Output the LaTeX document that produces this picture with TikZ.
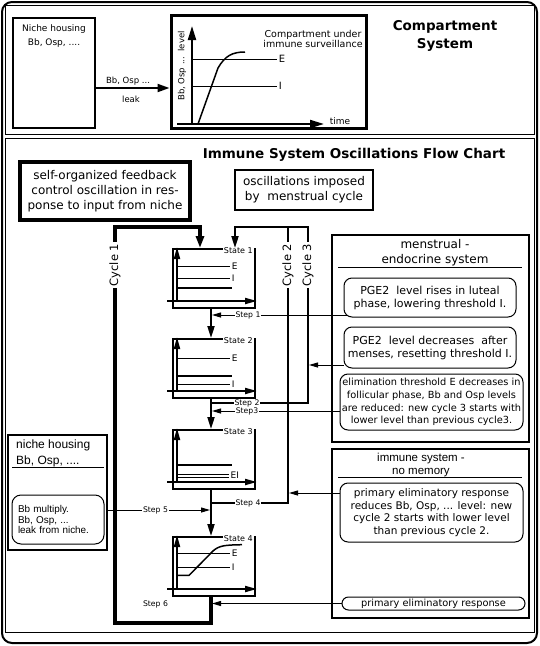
\documentclass[tikz,border=0pt]{standalone}
\usepackage{fontspec}
\setmainfont{DejaVu Sans}
\newfontfamily\helv{Liberation Sans}
\usetikzlibrary{arrows.meta,calc}
\newcommand\fs[2]{\fontsize{#1}{#2}\selectfont}
\tikzset{
  bigtip/.tip={Triangle[length=12pt,width=7pt]},
  smalltip/.tip={Triangle[length=9pt,width=5pt]},
  axtip/.tip={Triangle[length=12pt,width=6pt]},
}
\newcommand\stategraph[1]{%
  \draw[line width=2pt,-{axtip}] ($(#1.north west)+(5,53)$) -- ($(#1.north west)+(5,-1)$);
  \draw[line width=2pt,-{axtip}] ($(#1.north west)+(-5,53)$) -- ($(#1.north west)+(85,53)$);}
\newcommand\lvline[3]{%
  \draw[line width=0.8pt] ($(#1.north west)+(6,#2)$) -- ($(#1.north west)+(58,#2)$) node[elab] {#3};}
\newcommand\lvbare[2]{%
  \draw[line width=0.8pt] ($(#1.north west)+(6,#2)$) -- ($(#1.north west)+(57,#2)$);}
\newcommand\lvthick[2]{%
  \draw[line width=2pt] ($(#1.north west)+(6,#2)$) -- ($(#1.north west)+(60,#2)$);}
\begin{document}
\begin{tikzpicture}[x=1pt,y=-1pt,
  txt/.style={inner sep=0pt, align=center},
  statebox/.style={draw, line width=2pt, minimum width=82pt, minimum height=59pt, inner sep=0pt},
  rbox/.style={draw, line width=1pt, rounded corners=8pt, inner sep=0pt, align=center},
  framebox/.style={draw, line width=2pt, inner sep=0pt},
  spine/.style={line width=2pt},
  heavy/.style={line width=4pt},
  stepline/.style={line width=1pt},
  steplab/.style={fill=white, inner sep=0.6pt, font=\fs{7.7}{8}},
  statelab/.style={fill=white, inner sep=1pt, font=\fs{8}{9}, anchor=north east},
  elab/.style={anchor=west, inner sep=1.5pt, font=\fs{9}{10}},
  cyclab/.style={fill=white, rotate=90, inner sep=2pt, font=\fs{11.5}{12}}
]
\useasboundingbox (0,0) rectangle (540,646);
% ---------- frames
\draw[line width=2pt, rounded corners=10pt] (2,2) rectangle (537,643);
\draw[line width=1pt] (5,5) rectangle (534,134);
\draw[line width=1pt] (5,138) rectangle (534,632);

% ---------- top panel
\node[draw, line width=1.5pt, minimum width=82pt, minimum height=110pt, inner sep=0pt] (niche) at (54,73) {};
\node[txt, font=\fs{9}{14}] (nichet) at (54,36) {Niche housing\\Bb, Osp, ....};
\node[draw, line width=3pt, minimum width=195pt, minimum height=113pt, inner sep=0pt] (comp) at (268.5,71.5) {};
\path ($(niche.east)+(0,15)$) coordinate (leakstart);
\draw[line width=2pt, -{Triangle[length=12pt,width=8pt]}] (leakstart) -- (leakstart -| comp.west);
\node[txt, font=\fs{8.5}{10}] (bbosp) at (128,81) {Bb, Osp ...};
\node[txt, font=\fs{8.5}{10}] (leak) at (131,99) {leak};
% graph
\draw[line width=2pt, -{Triangle[length=14pt,width=8pt]}] (192,125) -- (192,26);
\draw[line width=2pt, -{Triangle[length=14pt,width=8pt]}] (177,124) -- (324,124);
\draw[line width=0.8pt] (193,59) -- (277,59) node[elab, font=\fs{10}{10}] (cE) {E};
\draw[line width=0.8pt] (193,86) -- (277,86) node[elab, font=\fs{10}{10}] (cI) {I};
\draw[line width=1.5pt] (198,124) -- (218,68) .. controls (225,56) and (232,52) .. (245,52);
\node[txt, rotate=90, font=\fs{8.5}{9}] (ylab) at (182,66) {Bb, Osp ...\ \ level};
\node[txt, font=\fs{9}{10}] (time) at (340,121) {time};
\node[txt, font=\fs{9.5}{9.5}] (compt) at (313,39) {Compartment under\\immune surveillance};
\node[txt, font=\bfseries\fs{13.5}{18}] (comps) at (445,36) {Compartment\\System};

% ---------- lower panel
\node[txt, font=\bfseries\fs{13.5}{14}] (title) at (354,155) {Immune System Oscillations Flow Chart};
\node[draw, line width=4pt, minimum width=170pt, minimum height=58pt, inner sep=0pt, align=center, font=\fs{12}{15}] (selforg) at (105,191) {self-organized feedback\\control oscillation in res-\\ponse to input from niche};
\node[draw, line width=2pt, minimum width=138pt, minimum height=40pt, inner sep=0pt, align=center, font=\fs{12}{15}] (imposed) at (304,190) {oscillations imposed\\by\ \ menstrual cycle};

% menstrual box
\node[framebox, minimum width=197pt, minimum height=207pt] (mens) at (430.5,338.5) {};
\node[txt, font=\fs{12}{15}] (menst) at (435,252.5) {menstrual -\\endocrine system};
\draw[line width=1pt] ($(mens.north west)+(7,33)$) -- ($(mens.north east)+(-8,33)$);
\node[rbox, minimum width=172pt, minimum height=39pt, font=\fs{11}{13}] (pge1) at (430,297.5) {PGE2\ \ level rises in luteal\\phase, lowering threshold I.};
\node[rbox, minimum width=172pt, minimum height=41pt, font=\fs{11}{13}] (pge2) at (430,347.5) {PGE2\ \ level decreases\ \ after\\menses, resetting threshold I.};
\node[rbox, minimum width=183pt, minimum height=56pt, font=\fs{9.8}{12.7}] (elim) at (431.5,402) {elimination threshold E decreases in\\follicular phase, Bb and Osp levels\\are reduced: new cycle 3 starts with\\lower level than previous cycle3.};

% immune box
\node[framebox, minimum width=197pt, minimum height=169pt] (imm) at (430.5,533.5) {};
\node[txt, font=\helv\fs{11.5}{13.7}] (immt) at (421,465) {immune system -\\no memory};
\draw[line width=1pt] ($(imm.north west)+(7,29)$) -- ($(imm.north east)+(-8,29)$);
\node[rbox, minimum width=183pt, minimum height=59pt, font=\fs{10.5}{12.4}] (prim1) at (431.5,512.5) {primary eliminatory response\\reduces Bb, Osp, ... level: new\\cycle 2 starts with lower level\\than previous cycle 2.};
\node[rbox, rounded corners=6.5pt, minimum width=183pt, minimum height=13pt, font=\fs{9.8}{10}] (prim2) at (433.5,603.5) {primary eliminatory response};

% niche housing box (left)
\node[framebox, minimum width=99pt, minimum height=115pt] (niche2) at (57.5,492.5) {};
\node[anchor=north west, inner sep=0pt, align=left, font=\helv\fs{12}{15.7}] (niche2t) at (16,440) {niche housing\\Bb, Osp, ....};
\draw[line width=1pt] ($(niche2.north west)+(5,33)$) -- ($(niche2.north east)+(-4,33)$);
\node[rbox, rounded corners=9pt, minimum height=49pt, text width=80pt, inner xsep=6pt, align=left, font=\helv\fs{9.9}{10.7}] (mult) at (58,519.5) {Bb multiply.\\Bb, Osp, ...\\leak from niche.};

% ---------- state boxes
\node[statebox] (s1) at (214,278.5) {};
\node[statebox] (s2) at (214,368.5) {};
\node[statebox] (s3) at (214,459.5) {};
\node[statebox] (s4) at (214,566.5) {};
\stategraph{s1}\stategraph{s2}\stategraph{s3}\stategraph{s4}
\lvline{s1}{18}{E}\lvline{s1}{30.5}{I}\lvthick{s1}{39.5}
\lvline{s2}{20}{E}\lvthick{s2}{37.5}\lvline{s2}{46.5}{I}
\lvthick{s3}{35.5}\lvbare{s3}{45.5}\lvbare{s3}{48}
\node[elab] (ei) at ($(s3.north west)+(57,46.5)$) {EI};
\lvline{s4}{17}{E}\lvline{s4}{31}{I}
\draw[line width=1.5pt] ($(s4.north west)+(6,39.4)$) -- ($(s4.north west)+(17,39.4)$) -- ($(s4.north west)+(41,15)$) .. controls ($(s4.north west)+(47,9.5)$) and ($(s4.north west)+(53,9)$) .. ($(s4.north west)+(70,8.7)$);
\node[statelab] (s1l) at ($(s1.north east)+(-2,-1.5)$) {State 1};
\node[statelab] (s2l) at ($(s2.north east)+(-2,-1.5)$) {State 2};
\node[statelab] (s3l) at ($(s3.north east)+(-2,-1.5)$) {State 3};
\node[statelab] (s4l) at ($(s4.north east)+(-2,-1.5)$) {State 4};

% ---------- helper coordinates
\coordinate (mx) at (211,0);
\coordinate (c1x) at (200,0);
\coordinate (c23x) at (235,0);
\coordinate (c2x) at (288,0);
\coordinate (c3x) at (308,0);
\coordinate (c1l) at (115,0);
\coordinate (topy) at (0,227);
\coordinate (boty) at (0,623);
\coordinate (y1) at (0,315);
\coordinate (y2) at (0,403);
\coordinate (y3) at (0,411);
\coordinate (y4) at (0,503);
\coordinate (y5) at (0,510);
\coordinate (ypg2) at (0,365);
\coordinate (yprim) at (0,493);

% ---------- spine
\draw[spine,-{bigtip}] (s1.south -| mx) -- (s2.north -| mx);
\draw[spine,-{bigtip}] (s2.south -| mx) -- (s3.north -| mx);
\draw[spine,-{bigtip}] (s3.south -| mx) -- (s4.north -| mx);
% cycle 1
\draw[heavy,-{Triangle[length=12pt,width=8pt]}] (s4.south -| mx) -- (mx |- boty) -- (c1l |- boty) -- (c1l |- topy) -- (c1x |- topy) -- (s1.north -| c1x);
% cycle 3
\draw[spine,-{bigtip}] (mx |- y2) -- (c3x |- y2) -- (c3x |- topy) -- (c23x |- topy) -- (s1.north -| c23x);
% cycle 2
\draw[spine] (mx |- y4) -- (c2x |- y4) -- (c2x |- topy);
% steps
\draw[stepline,-{smalltip}] ($(pge1.south west |- y1)+(3,0)$) -- ($(mx |- y1)+(1,0)$);
\draw[stepline,-{smalltip}] (elim.west |- y3) -- ($(mx |- y3)+(1,0)$);
\draw[stepline,-{smalltip}] (pge2.west |- ypg2) -- ($(c3x |- ypg2)+(1,0)$);
\draw[stepline,-{smalltip}] (prim1.west |- yprim) -- ($(c2x |- yprim)+(1,0)$);
\draw[stepline,-{smalltip}] (prim2.west) -- ($(mx |- prim2.west)+(1,0)$);
\draw[stepline,-{smalltip}] (niche2.east |- y5) -- ($(mx |- y5)+(-1,0)$);
% labels
\node[steplab] (st1) at (248,315) {Step 1};
\node[steplab] (st2) at (247,403) {Step 2};
\node[steplab] (st3) at (247,411.5) {Step3};
\node[steplab] (st4) at (248,503) {Step 4};
\node[steplab] (st5) at (155.5,510) {Step 5};
\node[inner sep=0pt, font=\fs{7.7}{8}] (st6) at (155.5,604) {Step 6};
\node[cyclab] (cy1) at (115,265) {Cycle 1};
\node[cyclab] (cy2) at (288,265) {Cycle 2};
\node[cyclab] (cy3) at (308,265) {Cycle 3};
\end{tikzpicture}
\end{document}
